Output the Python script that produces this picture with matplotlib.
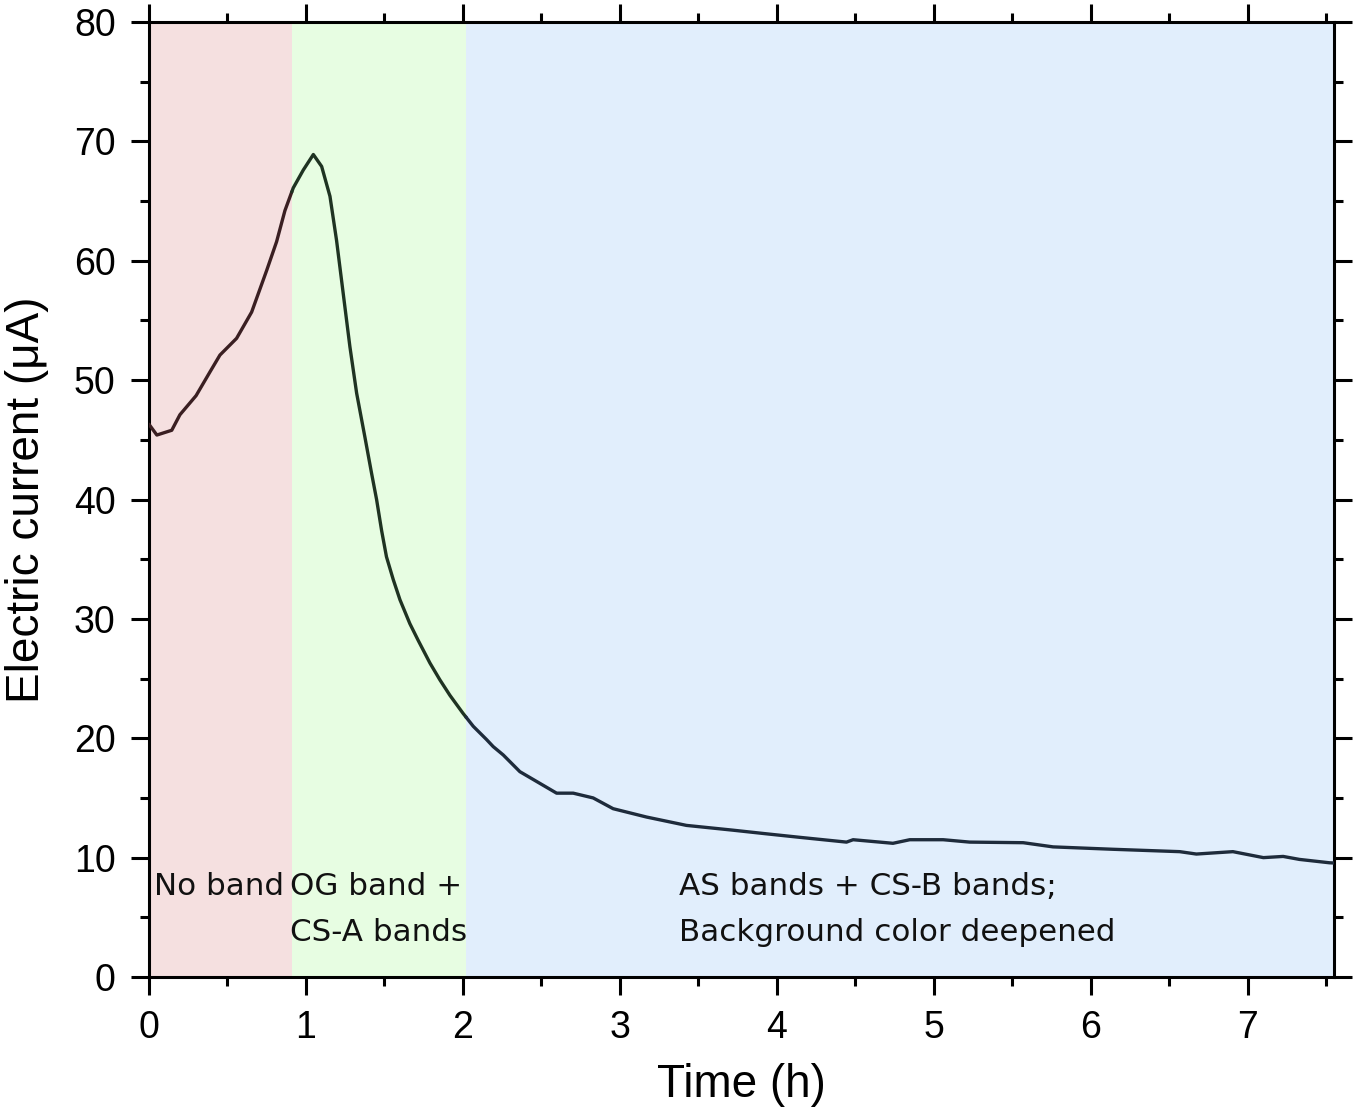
import matplotlib
matplotlib.use("Agg")
import matplotlib.pyplot as plt
import numpy as np

# ---- data ----
time_h = [0.0, 0.05, 0.145, 0.197, 0.30, 0.389, 0.452, 0.558, 0.654, 0.75, 0.813,
          0.866, 0.919, 0.983, 1.047, 1.10, 1.153, 1.195, 1.237, 1.28, 1.323, 1.376,
          1.418, 1.45, 1.482, 1.513, 1.556, 1.599, 1.662, 1.715, 1.79, 1.853, 1.917,
          2.0, 2.066, 2.15, 2.193, 2.257, 2.363,
          2.597, 2.703, 2.83, 2.957, 3.17, 3.424, 3.72, 3.93, 4.146, 4.444, 4.486,
          4.656, 4.74, 4.847, 5.06, 5.229, 5.57, 5.76, 6.14, 6.567, 6.673, 6.906,
          7.1, 7.226, 7.33, 7.52, 7.55]
current_uA = [46.3, 45.4, 45.8, 47.1, 48.7, 50.7, 52.1, 53.5, 55.7, 59.2, 61.6,
              64.2, 66.1, 67.6, 68.9, 67.9, 65.4, 61.7, 57.3, 52.8, 48.9, 45.2,
              42.2, 40.0, 37.4, 35.2, 33.3, 31.6, 29.6, 28.2, 26.3, 24.9, 23.6,
              22.1, 21.0, 19.9, 19.3, 18.6, 17.2,
              15.4, 15.4, 15.0, 14.1, 13.4, 12.7, 12.3, 12.0, 11.7, 11.3, 11.5,
              11.3, 11.2, 11.5, 11.5, 11.3, 11.25, 10.9, 10.7, 10.5, 10.3, 10.5,
              10.0, 10.1, 9.85, 9.57, 9.55]

region_bounds = [0.0, 0.91, 2.02, 7.55]
region_colors = ["#f5e0e0", "#e7fde2", "#e1eefc"]
line_colors = ["#3a1f22", "#1f3322", "#1e2b3b"]
region_labels = [["No band"], ["OG band +", "CS-A bands"],
                 ["AS bands + CS-B bands;", "Background color deepened"]]
label_x = [0.035, 0.9, 3.375]

x_ticks = [0, 1, 2, 3, 4, 5, 6, 7]
y_ticks = [0, 10, 20, 30, 40, 50, 60, 70, 80]

# ---- figure ----
fig = plt.figure(figsize=(13.55, 11.14), dpi=100)
ax = fig.add_axes([149/1355, 1 - 977/1114, (1334-149)/1355, (977-22)/1114])

for i in range(3):
    ax.axvspan(region_bounds[i], region_bounds[i+1], color=region_colors[i], lw=0, zorder=0)

t = np.array(time_h)
c = np.array(current_uA)
for i in range(3):
    lo, hi = region_bounds[i], region_bounds[i+1]
    mask = (t > lo) & (t < hi)
    seg_t = np.concatenate([[lo], t[mask], [hi]])
    seg_c = np.concatenate([[np.interp(lo, t, c)], c[mask], [np.interp(hi, t, c)]])
    ax.plot(seg_t, seg_c, color=line_colors[i], lw=2.4, zorder=3,
            solid_joinstyle="round", solid_capstyle="round")

annot_font = ["DejaVu Sans"]
line_y = [7.6, 3.75]
for i in range(3):
    for j, txt in enumerate(region_labels[i]):
        ax.text(label_x[i], line_y[j], txt, fontsize=22.3, family=annot_font,
                ha="left", va="center", color="#111111", zorder=4)

ax.set_xlim(0, 7.55)
ax.set_ylim(0, 80)
ax.set_xticks(x_ticks)
ax.set_yticks(y_ticks)
ax.set_xticks(np.arange(0.5, 7.55, 1.0), minor=True)
ax.set_yticks(np.arange(5, 80, 10), minor=True)

tick_font = "Liberation Sans"
ax.tick_params(which="major", direction="out", length=13, width=2.2,
               labelsize=27, pad=11, top=True, right=True)
ax.tick_params(which="minor", direction="out", length=6.5, width=2.2,
               top=True, right=True)
for lab in ax.get_xticklabels() + ax.get_yticklabels():
    lab.set_family(tick_font)
for s in ax.spines.values():
    s.set_linewidth(2.2)

ax.set_xlabel("Time (h)", fontsize=33, family=tick_font, labelpad=12)
ax.set_ylabel("Electric current (μA)", fontsize=33, family=tick_font, labelpad=18)

fig.savefig("out.png", dpi=100)
